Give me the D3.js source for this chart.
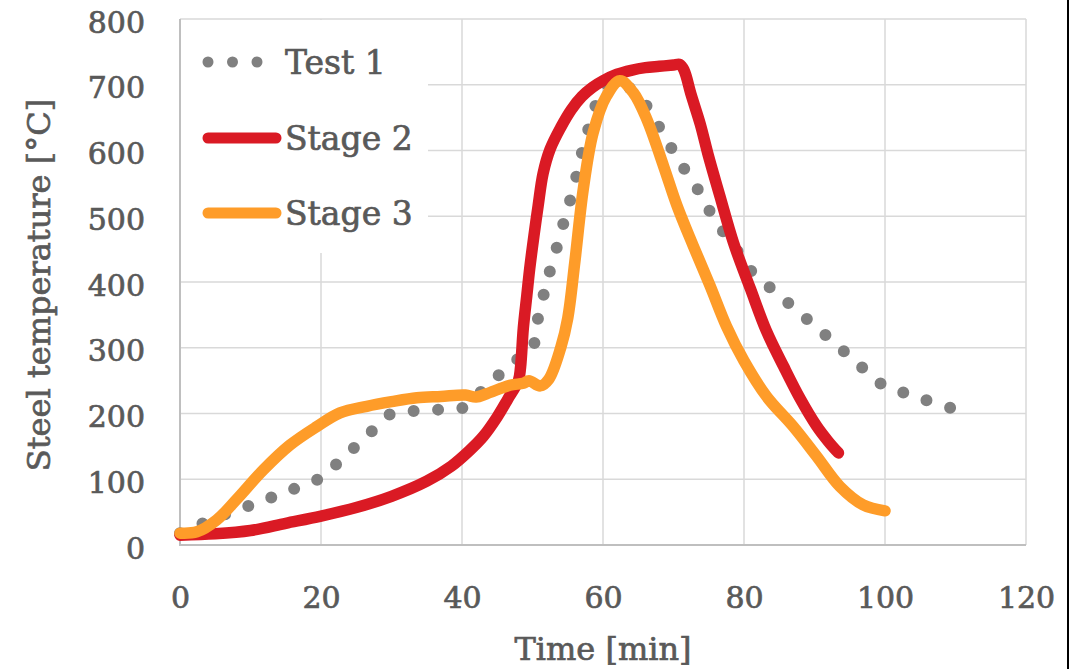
<!DOCTYPE html>
<html>
<head>
<meta charset="utf-8">
<script src="https://cdn.jsdelivr.net/npm/d3@7"></script>
<style>
  body { margin: 0; background: #fff; }
  svg text { font-family: "DejaVu Serif", serif; fill: #595959; stroke: #595959; stroke-width: 0.7px; }
</style>
</head>
<body>
<script>
var width = 1086,
    height = 669;

// series: [time (min), steel temperature (°C)]
var test1 = [[0,18],[3,32],[6,45],[9.6,59],[12.9,72],[16.1,85],[19.2,98],[20,102],[22.5,126],[25,151],
  [27.5,176],[30,200],[33.4,204],[36.8,206],[40,208],[42.6,232],[45.2,258],[47.8,282],[50,300],
  [50.6,336],[51.4,372],[52,400],[53,435],[53.9,471],[54.85,506],[55.8,542],[56.6,578],[57.4,613],
  [58.4,649],[59.6,686],[61,703],[63,700],[65,683],[66.7,660],[68.4,627],[70.2,595],[72,564],
  [73.9,533],[75.5,501],[77.5,470],[79.5,440],[80.2,426],[82.7,401],[85.3,377],[87.9,353],
  [90.5,329],[93.1,305],[95.7,280],[98.3,256],[100,241],[103.2,230],[106.5,218],[109.8,207]];

var stage2 = [[0,15],[5,17],[10,22],[15,33],[20,44],[25,57],[30,74],[35,97],[38.5,120],[41,143],
  [43,165],[45,195],[46.5,222],[48,250],[48.3,270],[48.7,330],[49.2,380],[49.6,420],[50.2,470],
  [50.8,516],[51.5,565],[52.5,602],[54,635],[55.5,662],[57,682],[58.5,696],[60,706],[62,716],
  [64,722],[66,726],[68,728],[70,730],[70.9,731],[71.5,722],[72.5,685],[73.8,640],[75,590],
  [76.6,530],[78.5,460],[80.9,390],[83.2,325],[85.6,272],[88,222],[90.3,181],[92,157],[93.4,140]];

var stage3 = [[0,18],[2.4,20],[5.2,38],[8,69],[11.8,114],[15.6,152],[19.4,180],[22.7,201],[26.5,211],
  [30,218],[33.6,224],[37,226],[40.5,228],[42,225],[43.5,230],[46.8,243],[48.7,246],[49.5,250],
  [51.1,242],[52.3,252],[54,300],[55,345],[56,430],[57.2,541],[58.6,627],[60.5,683],[62.4,706],
  [64.3,688],[66.2,648],[68.6,576],[70.5,516],[72.8,455],[75.2,394],[77.5,333],[80,280],[83.2,226],
  [87,180],[90.3,135],[93.6,89],[96.9,61],[100,52]];

var seriesNames = ["Test 1", "Stage 2", "Stage 3"];
var xTicks = [0, 20, 40, 60, 80, 100, 120];
var yTicks = [0, 100, 200, 300, 400, 500, 600, 700, 800];

var svg = d3.select('body')
    .append('svg')
    .attr('width', width)
    .attr('height', height);

var x = d3.scaleLinear().domain([0, 120]).range([180, 1026]);
var y = d3.scaleLinear().domain([0, 800]).range([545, 19]);

// gridlines
svg.append('g').selectAll('line')
    .data(xTicks)
    .enter()
    .append('line')
    .attr('x1', d=>x(d)).attr('x2', d=>x(d))
    .attr('y1', y(800)).attr('y2', y(0))
    .attr('stroke', '#d9d9d9')
    .attr('stroke-width', 1.5);

svg.append('g').selectAll('line')
    .data(yTicks)
    .enter()
    .append('line')
    .attr('x1', x(0)).attr('x2', x(120))
    .attr('y1', d=>y(d)).attr('y2', d=>y(d))
    .attr('stroke', '#d9d9d9')
    .attr('stroke-width', 1.5);

// axis lines
svg.append('line')
    .attr('x1', x(0)).attr('x2', x(0))
    .attr('y1', y(800)).attr('y2', y(0) + 1)
    .attr('stroke', '#bfbfbf').attr('stroke-width', 2);
svg.append('line')
    .attr('x1', x(0) - 1).attr('x2', x(120))
    .attr('y1', y(0)).attr('y2', y(0))
    .attr('stroke', '#bfbfbf').attr('stroke-width', 2);

// tick labels
var xAxis = svg.append('g')
    .attr('transform', 'translate(0,' + y(0) + ')')
    .call(d3.axisBottom(x).tickValues(xTicks).tickSize(0).tickPadding(0));
xAxis.select('.domain').remove();
xAxis.selectAll('text')
    .attr('y', 63).attr('dy', null)
    .style('font-size', '30px');

var yAxis = svg.append('g')
    .attr('transform', 'translate(145,0)')
    .call(d3.axisLeft(y).tickValues(yTicks).tickSize(0).tickPadding(0));
yAxis.select('.domain').remove();
yAxis.selectAll('text')
    .attr('x', 0).attr('dy', 13)
    .style('font-size', '30px');
svg.selectAll('.tick text').attr('fill', '#595959').style('font-family', '"DejaVu Serif", serif');

// axis titles
svg.append('text')
    .attr('x', 603).attr('y', 660)
    .attr('text-anchor', 'middle')
    .style('font-size', '32px')
    .text('Time [min]');

svg.append('text')
    .attr('transform', 'translate(50,285) rotate(-90)')
    .attr('text-anchor', 'middle')
    .style('font-size', '32px')
    .text('Steel temperature [°C]');

// legend background
svg.append('rect')
    .attr('x', 181).attr('y', 20)
    .attr('width', 247).attr('height', 233)
    .attr('fill', '#fff');

var line = d3.line()
    .x(d=>x(d[0]))
    .y(d=>y(d[1]))
    .curve(d3.curveCatmullRom.alpha(0.5));

var g = svg.append('g');

g.append('path')
    .datum(test1)
    .attr('fill', 'none')
    .attr('stroke', '#808080')
    .attr('stroke-width', 12)
    .attr('stroke-linecap', 'round')
    .attr('stroke-dasharray', '0,24.5')
    .attr('d', line);

g.append('path')
    .datum(stage2)
    .attr('fill', 'none')
    .attr('stroke', '#da1a24')
    .attr('stroke-width', 11.5)
    .attr('stroke-linecap', 'round')
    .attr('stroke-linejoin', 'round')
    .attr('d', line);

g.append('path')
    .datum(stage3)
    .attr('fill', 'none')
    .attr('stroke', '#fe9c29')
    .attr('stroke-width', 11.5)
    .attr('stroke-linecap', 'round')
    .attr('stroke-linejoin', 'round')
    .attr('d', line);

// legend
var legendY = [62, 138, 213];
var legend = svg.append('g');
legend.append('line')
    .attr('x1', 208).attr('x2', 258)
    .attr('y1', legendY[0]).attr('y2', legendY[0])
    .attr('stroke', '#808080').attr('stroke-width', 11)
    .attr('stroke-linecap', 'round')
    .attr('stroke-dasharray', '0,24.5');
legend.append('line')
    .attr('x1', 208).attr('x2', 276)
    .attr('y1', legendY[1]).attr('y2', legendY[1])
    .attr('stroke', '#da1a24').attr('stroke-width', 11)
    .attr('stroke-linecap', 'round');
legend.append('line')
    .attr('x1', 208).attr('x2', 276)
    .attr('y1', legendY[2]).attr('y2', legendY[2])
    .attr('stroke', '#fe9c29').attr('stroke-width', 11)
    .attr('stroke-linecap', 'round');
legend.selectAll('text')
    .data(seriesNames)
    .enter()
    .append('text')
    .attr('x', 285)
    .attr('y', (d, i)=>legendY[i] + 12)
    .style('font-size', '33px')
    .text(d=>d);

// right edge border
svg.append('line')
    .attr('x1', 1068).attr('x2', 1068)
    .attr('y1', 0).attr('y2', height)
    .attr('stroke', '#000').attr('stroke-width', 2);
</script>
</body>
</html>
